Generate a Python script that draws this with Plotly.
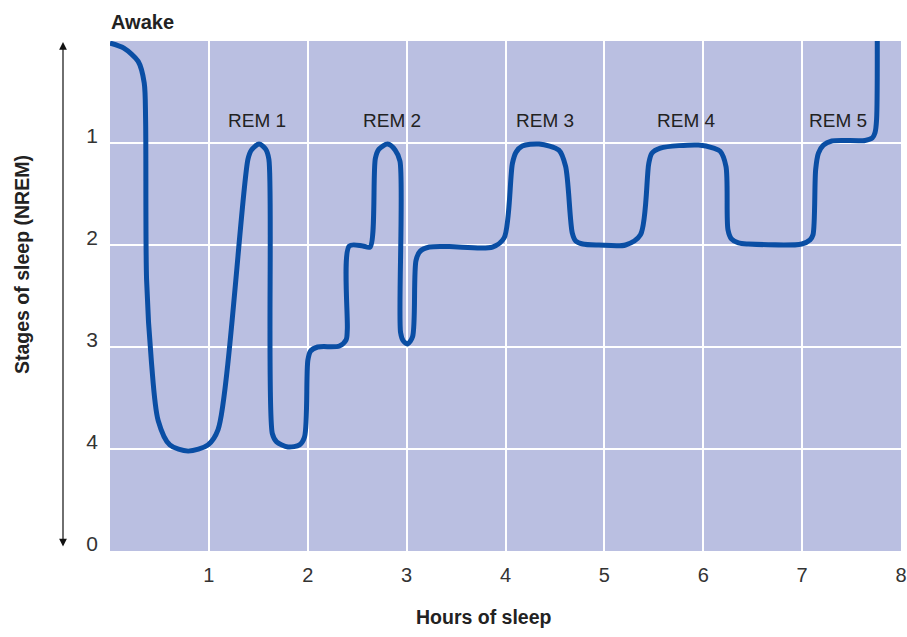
import plotly.graph_objects as go

# Hours of sleep (x) and sleep stage depth (y: 0 = awake at top, 5 = bottom "0")
hours = [0.00, 0.14, 0.285, 0.346, 0.36, 0.37, 0.42, 0.487, 0.605, 0.79, 0.99, 1.093,
         1.395, 1.43, 1.507, 1.574, 1.607, 1.642, 1.685, 1.80, 1.917, 1.968,
         2.001, 2.028, 2.10, 2.32, 2.388, 2.40, 2.42, 2.556, 2.63, 2.684, 2.72,
         2.808, 2.885, 2.933, 2.939, 2.966, 3.01, 3.06, 3.095, 3.138, 3.23, 3.43,
         3.868, 3.986, 4.07, 4.107, 4.17, 4.34, 4.54, 4.608, 4.675, 4.71, 4.78,
         4.944, 5.214, 5.365, 5.449, 5.48, 5.566, 5.952, 6.105, 6.17, 6.23, 6.25,
         6.285, 6.356, 6.456, 6.996, 7.08, 7.11, 7.137, 7.165, 7.215, 7.30,
         7.636, 7.71, 7.737, 7.753, 7.76]
stage = [0.02, 0.07, 0.20, 0.41, 0.77, 2.34, 3.16, 3.72, 3.96, 4.02, 3.96, 3.81,
         1.16, 1.07, 1.01, 1.06, 1.16, 3.85, 3.93, 3.98, 3.96, 3.88,
         3.13, 3.04, 3.00, 2.99, 2.93, 2.83, 2.01, 2.01, 2.02, 1.15, 1.06,
         1.01, 1.07, 1.18, 2.86, 2.94, 2.97, 2.90, 2.15, 2.06, 2.02, 2.015,
         2.02, 1.93, 1.20, 1.09, 1.03, 1.01, 1.07, 1.23, 1.88, 1.96, 1.99,
         2.00, 2.00, 1.90, 1.20, 1.10, 1.05, 1.02, 1.05, 1.08, 1.23, 1.85,
         1.94, 1.98, 1.99, 1.99, 1.95, 1.90, 1.26, 1.10, 1.02, 0.98,
         0.975, 0.95, 0.90, 0.77, 0.0]

x_ticks = [1, 2, 3, 4, 5, 6, 7, 8]
y_ticks = [1, 2, 3, 4, 5]
y_tick_text = ["1", "2", "3", "4", "0"]

rem_labels = ["REM 1", "REM 2", "REM 3", "REM 4", "REM 5"]
rem_x = [1.49, 2.85, 4.40, 5.83, 7.36]
rem_y = [0.78, 0.78, 0.78, 0.78, 0.78]

FONT = "Liberation Sans, Arial, sans-serif"
LINE = "#0A4EA4"
BG = "#BABFE1"

W, H = 907, 637
ML, MR, MT, MB = 110, 6, 41, 86
pw = W - ML - MR
ph = H - MT - MB


def px(xp):
    return (xp - ML) / pw


def py(yp):
    return (H - MB - yp) / ph


fig = go.Figure()
fig.add_trace(go.Scatter(x=hours, y=stage, mode="lines",
                         line=dict(color=LINE, width=5, shape="spline", smoothing=0.8),
                         showlegend=False, hoverinfo="skip"))

for t, xx, yy in zip(rem_labels, rem_x, rem_y):
    fig.add_annotation(x=xx, y=yy, text=t, showarrow=False,
                       xanchor="center", yanchor="middle",
                       font=dict(family=FONT, size=19, color="#222222"))

# double-headed vertical arrow on the left
fig.add_annotation(x=px(63), y=py(42), xref="paper", yref="paper",
                   ax=0, ay=506, axref="pixel", ayref="pixel", text="",
                   showarrow=True, arrowhead=2, arrowside="end+start",
                   arrowsize=1.3, arrowwidth=1.2, arrowcolor="#111111")

fig.add_annotation(x=px(109), y=py(22), xref="paper", yref="paper",
                   text="<b>Awake</b>", showarrow=False, xanchor="left",
                   yanchor="middle",
                   font=dict(family=FONT, size=20, color="#222222"))
fig.add_annotation(x=px(484), y=py(617), xref="paper", yref="paper",
                   text="<b>Hours of sleep</b>", showarrow=False,
                   xanchor="center", yanchor="middle",
                   font=dict(family=FONT, size=19.5, color="#222222"))
fig.add_annotation(x=px(22), y=py(265), xref="paper", yref="paper",
                   text="<b>Stages of sleep (NREM)</b>", showarrow=False,
                   textangle=-90, xanchor="center", yanchor="middle",
                   font=dict(family=FONT, size=19.5, color="#222222"))

fig.update_layout(
    width=W, height=H,
    margin=dict(l=ML, r=MR, t=MT, b=MB, autoexpand=False),
    paper_bgcolor="white", plot_bgcolor=BG,
    font=dict(family=FONT, size=20, color="#333333"),
    xaxis=dict(range=[0, 8], tickvals=x_ticks, showgrid=True, gridcolor="white",
               gridwidth=2, zeroline=False, showline=False, ticks="",
               ticklabelstandoff=10, ticklabeloverflow="allow",
               tickfont=dict(size=20, color="#333333")),
    yaxis=dict(range=[5, 0], tickvals=y_ticks, ticktext=y_tick_text,
               showgrid=True, gridcolor="white", gridwidth=2, zeroline=False,
               showline=False, ticks="", ticklabelstandoff=11, ticklabelshift=7,
               ticklabeloverflow="allow",
               tickfont=dict(size=21, color="#333333")),
)

fig.write_html("out.html",
               config={"displayModeBar": False},
               post_script="document.body.style.margin='0';"
                           "document.body.style.overflow='hidden';")
